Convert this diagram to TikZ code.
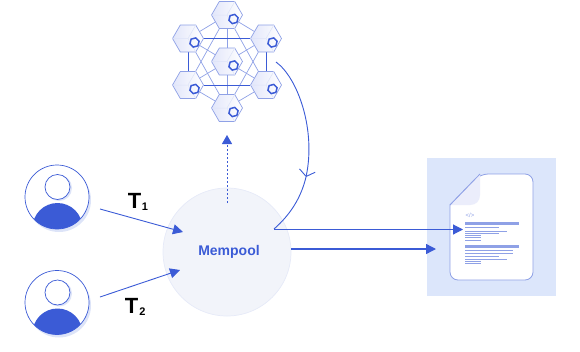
\documentclass[tikz,border=0pt]{standalone}
\usepackage{fontspec}
\setmainfont{Liberation Sans}
\usetikzlibrary{arrows.meta,shapes.geometric,backgrounds}
\definecolor{chainblue}{HTML}{3B5BD6}
\definecolor{hexedge}{HTML}{8FA1E6}
\definecolor{hexshade}{HTML}{E2E6FA}
\definecolor{panelblue}{HTML}{DCE6FB}
\definecolor{poolfill}{HTML}{F2F4FA}
\definecolor{pooledge}{HTML}{E6EAF8}
\definecolor{userback}{HTML}{DDE4F8}
\tikzset{
	hexnode/.style={regular polygon,regular polygon sides=6,minimum size=31pt,inner sep=0pt,draw=hexedge,line width=.7pt,left color=hexshade,right color=white},
	hexlogo/.style={regular polygon,regular polygon sides=6,regular polygon rotate=15,minimum size=9.5pt,inner sep=0pt,draw=chainblue,line width=1.5pt},
	meshline/.style={draw=hexedge,line width=.7pt},
	meshedge/.style={draw=chainblue,line width=.8pt},
	flowline/.style={draw=chainblue,line width=.9pt},
	flowhead/.style={-{Triangle[length=10pt,width=10pt]}},
	textbar/.style={draw=hexedge,line width=.8pt},
	txlabel/.style={font=\bfseries\fontsize{22}{22}\selectfont,inner sep=0pt},
	txindex/.style={font=\bfseries\fontsize{11}{11}\selectfont,inner sep=0pt},
}
\begin{document}
\begin{tikzpicture}[x=1pt,y=-1pt]
		\useasboundingbox (0,0) rectangle (580,351);
		%network
		\foreach \hexname/\hexpos in {hextop/{227,15},hexul/{188,38.5},hexur/{266,38.5},hexmid/{227,61.5},hexll/{188,85},hexlr/{266,85},hexbot/{227,108}}{
			\node[hexnode] (\hexname) at (\hexpos) {};
			\draw[hexedge!30,line width=.5pt] (\hexname.center) -- (\hexname.corner 3) (\hexname.center) -- (\hexname.corner 5) (\hexname.center) -- (\hexname.corner 1);
			\node[hexlogo] (\hexname logo) at ([xshift=6.5pt,yshift=-4pt]\hexname.center) {};
		}
		\begin{scope}[on background layer]
		\draw[meshline] (hextop) -- (hexul);
		\draw[meshline] (hextop) -- (hexur);
		\draw[meshline] (hextop) -- (hexll);
		\draw[meshline] (hextop) -- (hexlr);
		\draw[meshline] (hextop) -- (hexbot);
		\draw[meshline] (hexbot) -- (hexll);
		\draw[meshline] (hexbot) -- (hexlr);
		\draw[meshline] (hexbot) -- (hexul);
		\draw[meshline] (hexbot) -- (hexur);
		\draw[meshline] (hexul) -- (hexlr);
		\draw[meshline] (hexur) -- (hexll);
		\draw[meshedge] (hexul) -- (hexur);
		\draw[meshedge] (hexll) -- (hexlr);
		\draw[meshedge] (hexul) -- (hexll);
		\draw[meshedge] (hexur) -- (hexlr);
		\end{scope}

		%mempool
		\node[circle,fill=poolfill,draw=pooledge,line width=.7pt,minimum size=128pt,inner sep=0pt] (mempool) at (227,252) {};
		\node[text=chainblue,font=\bfseries\fontsize{14}{16}\selectfont] (mempoollabel) at (229,252) {Mempool};

		%users
		\foreach \username/\uy in {userone/197,usertwo/302.5}{
			\fill[userback] (59,\uy+3) circle (32pt);
			\node[circle,draw=chainblue,fill=white,line width=.7pt,minimum size=64pt,inner sep=0pt] (\username) at (57,\uy) {};
			\begin{scope}
			\clip (57,\uy) circle (32pt);
			\fill[chainblue] (57.5,\uy+31) circle (25pt);
			\end{scope}
			\fill[userback] (59,\uy-9) circle (13pt);
			\node[circle,draw=chainblue,fill=white,line width=.7pt,minimum size=25pt,inner sep=0pt] (\username head) at (57.5,\uy-10) {};
		}
		\coordinate (userone out) at (100,209);
		\coordinate (usertwo out) at (100,297);
		\coordinate (poolin one) at (183,232);
		\coordinate (poolin two) at (180,270);
		\draw[flowline,flowhead] (userone out) -- (poolin one);
		\draw[flowline,flowhead] (usertwo out) -- (poolin two);
		\node[txlabel] (tone) at (134.5,200.5) {T};
		\node[txindex] (toneindex) at (145,207) {1};
		\node[txlabel] (ttwo) at (131.5,305.5) {T};
		\node[txindex] (ttwoindex) at (142.5,312) {2};

		%to the network and back
		\coordinate (poolup) at (227,203);
		\coordinate (hexdown) at (227,135);
		\draw[flowline,dash pattern=on 2pt off 2pt,-{Triangle[length=9pt,width=10pt]}] (poolup) -- (hexdown);
		\coordinate (backstart) at (276,62);
		\coordinate (backtip) at (306,177);
		\coordinate (backend) at (274,229);
		\draw[flowline,-{Straight Barb[length=6pt,width=16pt]}] (backstart) .. controls (298,78) and (316,130) .. (backtip);
		\draw[flowline] (backtip) .. controls (301,198) and (290,215) .. (backend);

		%document
		\node[fill=panelblue,minimum width=129pt,minimum height=138pt,inner sep=0pt] (panel) at (491.5,227) {};
		\draw[hexedge,line width=.8pt,fill=white,rounded corners=8pt] (450,205) -- (450,280) -- (533,280) -- (533,174) -- (480,174) [sharp corners] -- cycle;
		\fill[hexshade!70] (480,174) -- (480,195) .. controls (480,201) and (476,205) .. (470,205) -- (450,205) -- cycle;
		\draw[hexedge,line width=.8pt] (480,174) -- (450,205);
		\node[text=hexedge,font=\fontsize{6}{7}\selectfont] (codetag) at (470,215) {</>};
		\draw[textbar,line width=3pt] (465,223.5) -- (519,223.5);
		\draw[textbar] (465,227.7) -- (499,227.7);
		\draw[textbar] (465,231.3) -- (507,231.3);
		\draw[textbar] (465,233.3) -- (499,233.3);
		\draw[textbar] (465,235.3) -- (481,235.3);
		\draw[textbar] (465,237.7) -- (481,237.7);
		\draw[textbar] (465,240.3) -- (481,240.3);
		\draw[textbar,line width=3pt] (465,246.3) -- (519,246.3);
		\draw[textbar] (465,250.3) -- (513,250.3);
		\draw[textbar] (465,253.3) -- (513,253.3);
		\draw[textbar] (465,256) -- (499,256);
		\draw[textbar] (465,259) -- (507,259);
		\draw[textbar] (465,261.7) -- (481,261.7);
		\draw[textbar] (465,263.7) -- (481,263.7);

		%output
		\coordinate (outtip) at (463,229.5);
		\coordinate (backendout) at (274,229.5);
		\coordinate (poolout) at (291,249);
		\coordinate (panelin) at (436,249);
		\draw[flowline,line width=1.1pt,flowhead] (backendout) -- (outtip);
		\draw[flowline,line width=1.4pt,flowhead] (poolout) -- (panelin);
\end{tikzpicture}
\end{document}
